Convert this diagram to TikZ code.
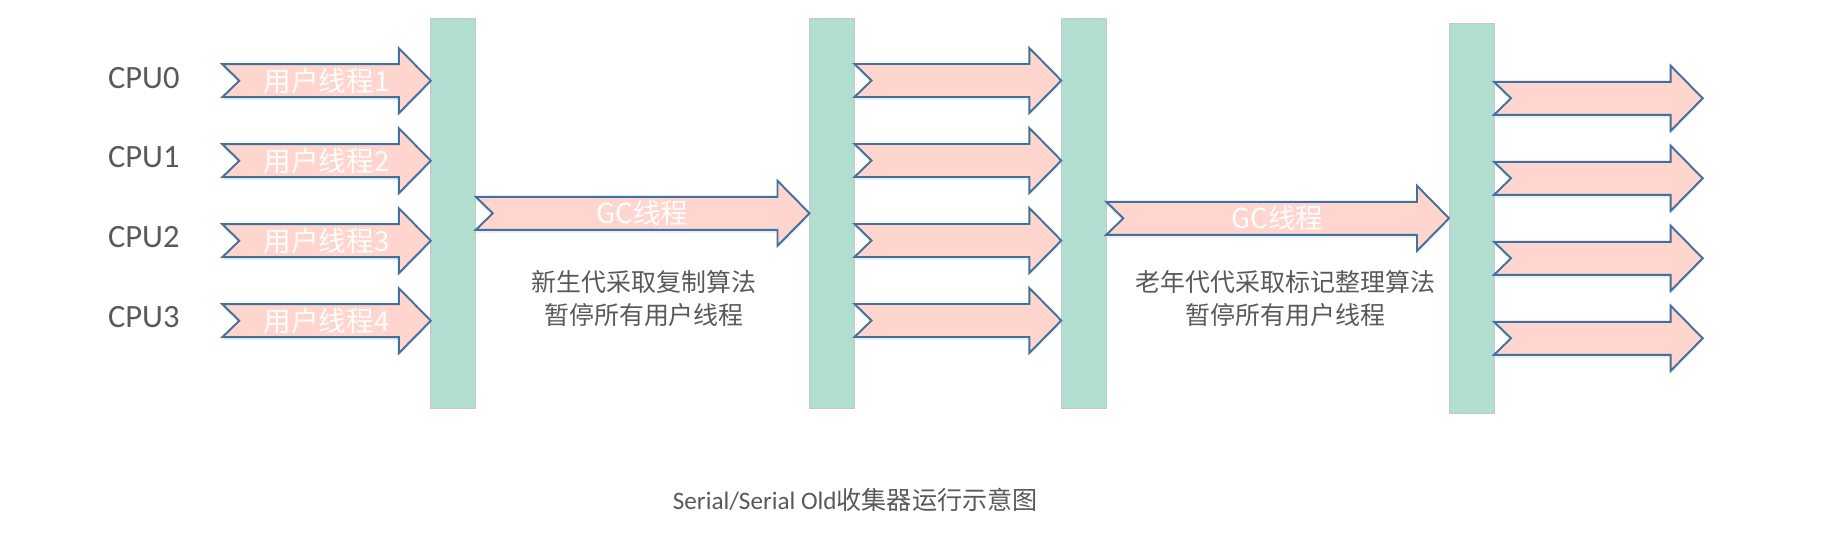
\documentclass[tikz,border=0pt]{standalone}
\usepackage{fontspec}
\setmainfont{Carlito}
\newfontfamily\cjk{Noto Sans CJK SC}
\usetikzlibrary{calc,shadows}

\definecolor{arrowfill}{RGB}{255,213,206}
\definecolor{arrowline}{RGB}{65,113,156}
\definecolor{barfill}{RGB}{178,222,210}
\definecolor{barline}{RGB}{200,200,200}
\definecolor{textgray}{RGB}{89,89,89}

\tikzset{
  bar/.style={fill=barfill, draw=barline, line width=0.4pt, minimum width=0.9cm,
    minimum height=7.8cm, inner sep=0pt, outer sep=0pt},
  fatarrow/.style={fill=arrowfill, draw=arrowline, line width=1.1pt, line join=miter,
    drop shadow={shadow xshift=0pt, shadow yshift=-1.6pt, opacity=0.18, fill=arrowline!70}},
  arrowlabel/.style={text=white, inner sep=0pt, font=\fontsize{15.7pt}{18pt}\selectfont\cjk},
  cpulabel/.style={text=textgray, anchor=west, inner sep=0pt, font=\fontsize{18.5pt}{22pt}\selectfont},
  note/.style={text=textgray, align=center, inner sep=0pt, font=\fontsize{14.2pt}{18.9pt}\selectfont\cjk},
  caption/.style={text=textgray, inner sep=0pt, font=\fontsize{14.3pt}{17pt}\selectfont}
}

% block arrow with notched tail: #1 tail, #2 tip
\newcommand{\fatarrow}[2]{%
  \filldraw[fatarrow] ($(#1)+(0,-16.5)$) -- ($(#2)+(-32,-16.5)$) -- ($(#2)+(-32,-32.5)$)
    -- (#2) -- ($(#2)+(-32,32.5)$) -- ($(#2)+(-32,16.5)$) -- ($(#1)+(0,16.5)$)
    -- ($(#1)+(17,0)$) -- cycle;}

\begin{document}
\begin{tikzpicture}[x=0.02cm, y=-0.02cm]
  \useasboundingbox (0,0) rectangle (1837,543);

  % safepoint bars
  \node[bar] (bar1) at (453.3,213.2) {};
  \node[bar] (bar2) at (832,213.3) {};
  \node[bar] (bar3) at (1083.8,213) {};
  \node[bar] (bar4) at (1471.5,218.3) {};

  % user threads before the first pause
  \node[cpulabel] (cpu0) at (107.7,78) {CPU0};
  \node[cpulabel] (cpu1) at (107.7,157.5) {CPU1};
  \node[cpulabel] (cpu2) at (107.7,237.5) {CPU2};
  \node[cpulabel] (cpu3) at (107.7,317) {CPU3};
  \coordinate (t0) at (222.3,80.7);  \coordinate (h0) at (t0 -| bar1.west);
  \coordinate (t1) at (222.3,160.7); \coordinate (h1) at (t1 -| bar1.west);
  \coordinate (t2) at (222.3,240.7); \coordinate (h2) at (t2 -| bar1.west);
  \coordinate (t3) at (222.3,320.7); \coordinate (h3) at (t3 -| bar1.west);
  \fatarrow{t0}{h0}
  \fatarrow{t1}{h1}
  \fatarrow{t2}{h2}
  \fatarrow{t3}{h3}
  \node[arrowlabel] (user0) at ($(t0)!0.5!(h0)$) {用户线程1};
  \node[arrowlabel] (user1) at ($(t1)!0.5!(h1)$) {用户线程2};
  \node[arrowlabel] (user2) at ($(t2)!0.5!(h2)$) {用户线程3};
  \node[arrowlabel] (user3) at ($(t3)!0.5!(h3)$) {用户线程4};

  % young generation gc
  \coordinate (g0) at (bar1.east |- 0,213.3); \coordinate (gh0) at (g0 -| bar2.west);
  \fatarrow{g0}{gh0}
  \node[arrowlabel] (gc0) at ($(g0)!0.5!(gh0)$) {GC线程};
  \node[note] (young) at (644,298.3) {新生代采取复制算法\\暂停所有用户线程};

  % user threads between the pauses
  \coordinate (s0) at (bar2.east |- 0,80.5);  \coordinate (sh0) at (s0 -| bar3.west);
  \coordinate (s1) at (bar2.east |- 0,160.5); \coordinate (sh1) at (s1 -| bar3.west);
  \coordinate (s2) at (bar2.east |- 0,240.5); \coordinate (sh2) at (s2 -| bar3.west);
  \coordinate (s3) at (bar2.east |- 0,320.5); \coordinate (sh3) at (s3 -| bar3.west);
  \fatarrow{s0}{sh0}
  \fatarrow{s1}{sh1}
  \fatarrow{s2}{sh2}
  \fatarrow{s3}{sh3}

  % old generation gc
  \coordinate (g1) at (bar3.east |- 0,218.3); \coordinate (gh1) at (g1 -| bar4.west);
  \fatarrow{g1}{gh1}
  \node[arrowlabel] (gc1) at ($(g1)!0.5!(gh1)$) {GC线程};
  \node[note] (old) at (1285.4,298.3) {老年代代采取标记整理算法\\暂停所有用户线程};

  % user threads after the second pause
  \coordinate (e0) at (1702.7,98.3);  \coordinate (r0) at (bar4.east |- e0);
  \coordinate (e1) at (1702.7,178.3); \coordinate (r1) at (bar4.east |- e1);
  \coordinate (e2) at (1702.7,258.3); \coordinate (r2) at (bar4.east |- e2);
  \coordinate (e3) at (1702.7,338.3); \coordinate (r3) at (bar4.east |- e3);
  \fatarrow{r0}{e0}
  \fatarrow{r1}{e1}
  \fatarrow{r2}{e2}
  \fatarrow{r3}{e3}

  \node[caption] (title) at (855.3,500) {Serial/Serial Old{\cjk 收集器运行示意图}};
\end{tikzpicture}
\end{document}
